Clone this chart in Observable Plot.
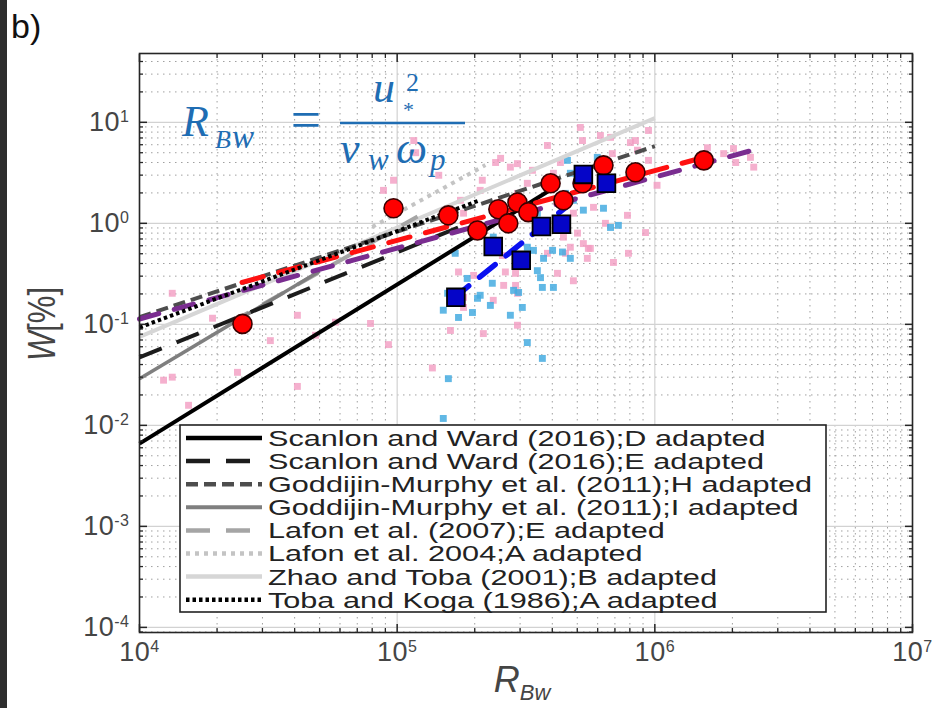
<!DOCTYPE html>
<html><head><meta charset="utf-8">
<script src="https://cdn.jsdelivr.net/npm/d3@7"></script>
<script src="https://cdn.jsdelivr.net/npm/@observablehq/plot@0.6"></script>
<style>
html,body{margin:0;padding:0;background:#fff;}
#wrap{position:relative;width:951px;height:708px;overflow:hidden;background:#fff;font-family:"Liberation Sans",Arial,sans-serif;}
#wrap > svg{display:block;}
.ov{position:absolute;}
#leftbar{left:0;top:0;width:7px;height:708px;background:#2e2e2e;}
#title{left:11px;top:9px;font-size:34px;color:#111;line-height:1;}
#ylab{left:42px;top:324px;transform:translate(-50%,-50%) rotate(-90deg) scale(1,1.25);font-size:31px;color:#454545;white-space:nowrap;line-height:1;}
#xlab{left:522px;top:662px;transform:translateX(-50%);font-size:36px;color:#454545;white-space:nowrap;line-height:1;}
#xlab sub{font-size:22px;vertical-align:-8px;}
</style></head>
<body>
<div id="wrap">
  <div id="leftbar" class="ov"></div>
  <div id="title" class="ov">b)</div>
  <div id="ylab" class="ov"><i>W</i>[%]</div>
  <div id="xlab" class="ov"><i>R</i><sub><i>Bw</i></sub></div>
</div>
<script>
// ---------------- data ----------------
const xTicks = [1e4, 1e5, 1e6, 1e7];
const yTicks = [1e-4, 1e-3, 1e-2, 1e-1, 1, 10];
const xDomain = [1e4, 1e7];
const yDomain = [8.9e-5, 48];

// small pink squares [R_Bw, W%]
const pinkPoints = [
 [1.34e4,0.203],[1.24e4,0.028],[1.34e4,0.030],[1.55e4,0.0158],[1.92e4,0.115],[2.40e4,0.0335],
 [3.22e4,0.069],[4.10e4,0.123],[4.10e4,0.0243],[5.76e4,0.105],[4.82e4,0.078],[7.88e4,0.102],
 [9.25e4,0.063],[1.37e5,0.037],[1.61e5,0.087],[1.73e5,0.33],[1.81e5,0.147],[2.36e5,0.173],
 [2.59e5,0.243],[2.63e5,0.33],[1.98e5,0.305],[2.88e5,0.243],[2.56e5,0.48],[4.83e5,0.27],
 [5.52e5,0.565],[2.16e5,0.081],[4.70e5,0.58],[9.68e4,2.67],[8.85e4,2.12],[2.41e5,4.0],
 [2.93e5,3.9],[3.35e5,3.35],[2.10e5,2.12],[1.76e5,1.69],[1.81e5,1.26],[1.57e5,1.0],
 [2.30e5,0.54],[2.88e5,0.32],[3.83e5,0.505],[4.50e5,0.505],[1.81e5,0.185],[2.93e5,0.203],
 [4.19e5,0.32],[5.01e5,0.80],[3.20e5,2.49],[4.04e5,3.13],[1.45e5,2.99],[6.15e5,7.4],
 [6.73e5,7.1],[8.41e5,6.6],[8.56e5,5.3],[9.45e5,4.2],[1.02e6,2.38],[7.83e5,1.20],
 [9.20e5,0.81],[5.78e5,1.44],[6.91e5,0.41],[6.43e5,1.0],[1.60e6,5.6],[2.02e6,5.5],
 [2.06e6,4.0],[2.35e6,4.5],[2.42e6,3.6],[1.85e6,4.9],[9.45e5,8.3],[8.04e5,6.3],
 [4.30e5,4.0],[5.14e5,8.9],[5.62e5,0.565],[1.16e5,6.6],[1.18e5,5.0],[2.14e5,2.67],
 [2.93e5,1.98],[3.83e5,5.9],[5.24e5,6.6],[6.84e5,4.9],[3.87e5,2.85],[2.52e5,4.4],
 [2.75e5,3.6],[5.28e5,0.63],[5.47e5,0.45],[4.83e5,1.26],[4.42e5,0.73],[7.90e5,0.505],
 [2.93e5,0.098]
];
// small light-blue squares [R_Bw, W%]
const cyanPoints = [
 [1.51e5,0.138],[1.73e5,0.117],[1.96e5,0.131],[2.30e5,0.154],[2.10e5,0.194],[2.75e5,0.123],
 [2.96e5,0.207],[1.58e5,0.029],[1.51e5,0.0117],[3.20e5,0.066],[1.87e5,0.285],[2.34e5,0.255],
 [2.83e5,0.217],[3.06e5,0.147],[3.50e5,0.34],[3.66e5,0.232],[4.01e5,0.54],[4.38e5,0.52],
 [4.70e5,0.45],[3.70e5,0.45],[3.66e5,0.046],[3.38e5,0.54],[1.68e5,0.505],[4.70e5,3.13],
 [4.50e5,1.98],[3.50e5,1.26],[3.60e5,0.29],[2.05e5,0.181],[1.57e5,0.203],[2.10e5,0.91],
 [2.36e5,0.73],[3.20e5,0.58],[4.04e5,0.232],[4.58e5,4.2],[5.28e5,1.35],[6.32e5,1.41],
 [6.73e5,0.91],[7.22e5,0.955],[5.98e5,4.5],[5.14e5,2.67],[4.83e5,1.69]
];
// large red circles
const redPoints = [
 [2.51e4,0.101],[9.68e4,1.41],[1.58e5,1.20],[2.05e5,0.85],[2.47e5,1.38],[2.70e5,1.0],
 [2.93e5,1.61],[3.23e5,1.29],[3.94e5,2.49],[4.42e5,1.69],[5.24e5,2.49],[6.32e5,3.75],
 [8.41e5,3.2],[1.55e6,4.2]
];
// large blue squares
const bluePoints = [
 [1.69e5,0.185],[2.36e5,0.59],[3.03e5,0.43],[3.63e5,0.93],[4.34e5,0.98],[5.28e5,3.05],[6.49e5,2.49]
];
// fit lines (end points)
const redFitR = [2.5e4, 1.77e6],  redFitW = [0.26, 4.93];
const purpleFitR = [1e4, 2.4e6],  purpleFitW = [0.113, 5.3];
const blueFitR = [1.65e5, 4.6e5], blueFitW = [0.18, 1.5];

// adapted parameterisations (legend entries)
const lineNames = [
 "Scanlon and Ward (2016);D adapted",
 "Scanlon and Ward (2016);E adapted",
 "Goddijin-Murphy et al. (2011);H adapted",
 "Goddijin-Murphy et al. (2011);I adapted",
 "Lafon et al. (2007);E adapted",
 "Lafon et al. 2004;A adapted",
 "Zhao and Toba (2001);B adapted",
 "Toba and Koga (1986);A adapted"
];
const lineR = [[1e4,4e5],[1e4,2e5],[1e4,1e6],[1e4,5e4],[2.2e4,1.2e5],[8e4,2.2e5],[1e4,1e6],[1e4,2.1e5]];
const lineW = [[0.0066,2.2],[0.047,1.06],[0.118,5.8],[0.029,0.336],[0.1,1.17],[0.92,3.77],[0.075,11],[0.093,1.7]];

// styles
const lineStroke = ["#000000","#1c1c1c","#4d4d4d","#7f7f7f","#a5a5a5","#c4c4c4","#d6d6d6","#000000"];
const lineWidthS = [4,4,4,3.5,4,4,4,4];
const lineDash = [null,"24,16","12,6",null,"24,16","4,5",null,"3.5,3"];

// ---------------- chart ----------------
const toObj = a => a.map(([R,W]) => ({R,W}));
const xMinor = d3.range(4,7).flatMap(e => d3.range(2,10).map(m => m*Math.pow(10,e)));
const yMinor = d3.range(-5,2).flatMap(e => d3.range(2,10).map(m => m*Math.pow(10,e))).filter(v => v > yDomain[0] && v < yDomain[1]);
const fmt = d => "10^" + Math.round(Math.log10(d));
const blank = () => "";

const lineMarks = lineNames.map((n,i) => Plot.line(
  [{R: lineR[i][0], W: lineW[i][0]}, {R: lineR[i][1], W: lineW[i][1]}],
  {x: "R", y: "W", stroke: lineStroke[i], strokeWidth: lineWidthS[i], strokeDasharray: lineDash[i] || undefined, strokeLinecap: "butt"}
));
const zipLine = (R, W) => R.map((r,i) => ({R: r, W: W[i]}));

const order = [6,5,4,3,2,1,0]; // light first
const chart = Plot.plot({
  width: 951, height: 708,
  marginLeft: 139, marginRight: 39, marginTop: 53, marginBottom: 76,
  x: {type: "log", domain: xDomain, label: null},
  y: {type: "log", domain: yDomain, label: null},
  style: {background: "transparent", fontFamily: "'Liberation Sans', Arial, sans-serif", fontSize: "27px", overflow: "visible"},
  marks: [
    Plot.ruleX(xMinor, {stroke: "#a0a0a0", strokeWidth: 1, strokeDasharray: "1.5,4.5"}),
    Plot.ruleY(yMinor, {stroke: "#a0a0a0", strokeWidth: 1, strokeDasharray: "1.5,4.5"}),
    Plot.ruleX(xTicks, {stroke: "#d2d2d2", strokeWidth: 1.2}),
    Plot.ruleY(yTicks, {stroke: "#d2d2d2", strokeWidth: 1.2}),
    Plot.dot(toObj(pinkPoints), {x: "R", y: "W", symbol: "square", r: 3.9, fill: "#f39cc2", fillOpacity: 0.8, stroke: "none"}),
    Plot.dot(toObj(cyanPoints), {x: "R", y: "W", symbol: "square", r: 3.9, fill: "#45ace0", fillOpacity: 0.85, stroke: "none"}),
    ...order.map(i => lineMarks[i]),
    Plot.line(zipLine(purpleFitR, purpleFitW), {x: "R", y: "W", stroke: "#7a2d90", strokeWidth: 5, strokeDasharray: "20,16"}),
    Plot.line(zipLine(redFitR, redFitW), {x: "R", y: "W", stroke: "#ff1010", strokeWidth: 5, strokeDasharray: "22,16"}),
    lineMarks[7],
    Plot.line(zipLine(blueFitR, blueFitW), {x: "R", y: "W", stroke: "#0a10f0", strokeWidth: 5.5, strokeDasharray: "20,14"}),
    Plot.dot(toObj(redPoints), {x: "R", y: "W", r: 9.5, fill: "#ff0000", stroke: "#3a0000", strokeWidth: 1.6}),
    Plot.dot(toObj(bluePoints), {x: "R", y: "W", symbol: "square", r: 10, fill: "#0505c8", stroke: "#000", strokeWidth: 1.8}),
    Plot.frame({stroke: "#262626", strokeWidth: 1.6}),
    // inward ticks on all four sides
    Plot.axisX(xTicks, {anchor: "bottom", tickSize: -8, tickFormat: blank, stroke: "#262626", strokeWidth: 1.5, label: null}),
    Plot.axisX(xTicks, {anchor: "top", tickSize: -8, tickFormat: blank, stroke: "#262626", strokeWidth: 1.5, label: null}),
    Plot.axisX(xMinor, {anchor: "bottom", tickSize: -4, tickFormat: blank, stroke: "#262626", strokeWidth: 1.3, label: null}),
    Plot.axisX(xMinor, {anchor: "top", tickSize: -4, tickFormat: blank, stroke: "#262626", strokeWidth: 1.3, label: null}),
    Plot.axisY(yTicks, {anchor: "left", tickSize: -8, tickFormat: blank, stroke: "#262626", strokeWidth: 1.5, label: null}),
    Plot.axisY(yTicks, {anchor: "right", tickSize: -8, tickFormat: blank, stroke: "#262626", strokeWidth: 1.5, label: null}),
    Plot.axisY(yMinor, {anchor: "left", tickSize: -4, tickFormat: blank, stroke: "#262626", strokeWidth: 1.3, label: null}),
    Plot.axisY(yMinor, {anchor: "right", tickSize: -4, tickFormat: blank, stroke: "#262626", strokeWidth: 1.3, label: null}),
    // labels
    Plot.axisX(xTicks, {anchor: "bottom", tickSize: 0, tickPadding: 9, tickFormat: fmt, fill: "#454545", label: null}),
    Plot.axisY(yTicks, {anchor: "left", tickSize: 0, tickPadding: 10, tickFormat: fmt, fill: "#454545", label: null})
  ]
});
const wrap = document.getElementById("wrap");
wrap.insertBefore(chart, wrap.firstChild);

// superscript exponents in tick labels
chart.querySelectorAll("text").forEach(t => {
  const m = /^10\^(-?\d+)$/.exec(t.textContent.trim());
  if (!m) return;
  while (t.firstChild) t.removeChild(t.firstChild);
  t.setAttribute("letter-spacing", "0.5px");
  t.appendChild(document.createTextNode("10"));
  const sp = document.createElementNS("http://www.w3.org/2000/svg", "tspan");
  sp.setAttribute("dy", "-0.55em");
  sp.setAttribute("font-size", "16px");
  sp.textContent = m[1];
  t.appendChild(sp);
});

// ---------------- overlay: formula + legend ----------------
const ov = d3.select(wrap).append("svg").attr("class", "ov")
  .style("left", "0px").style("top", "0px").attr("width", 951).attr("height", 708)
  .style("pointer-events", "none");

const fcol = "#1f6db3";
const ff = "'Liberation Serif','DejaVu Serif',serif";
const fT = (txt, x, y, size, italic = true, anchor = "start") => ov.append("text")
  .attr("x", x).attr("y", y).attr("font-family", ff).attr("font-size", size)
  .attr("font-style", italic ? "italic" : "normal").attr("fill", fcol)
  .attr("text-anchor", anchor).text(txt);
fT("R", 182, 136, 44);
fT("B", 215, 148, 26);
fT("w", 232, 148, 33);
fT("=", 306, 138, 54, false, "middle");
ov.append("line").attr("x1", 340).attr("x2", 465).attr("y1", 123).attr("y2", 123).attr("stroke", fcol).attr("stroke-width", 2.4);
fT("u", 373, 102, 44);
fT("2", 406, 91, 26, false);
fT("*", 403, 117, 22, false);
fT("ν", 340, 163, 44);
fT("w", 368, 170, 31);
fT("ω", 396, 163, 44);
fT("p", 430, 170, 31);

// legend
const lg = ov.append("g");
lg.append("rect").attr("x", 180).attr("y", 425).attr("width", 646).attr("height", 187)
  .attr("fill", "#fff").attr("stroke", "#222").attr("stroke-width", 1.6);
const texts = [];
lineNames.forEach((name, i) => {
  const yb = 446 + i * 23.1;
  lg.append("line").attr("x1", 186).attr("x2", 262).attr("y1", yb - 8).attr("y2", yb - 8)
    .attr("stroke", lineStroke[i]).attr("stroke-width", lineWidthS[i] + 0.5)
    .attr("stroke-dasharray", lineDash[i]);
  texts.push(lg.append("text").attr("x", 0).attr("y", yb)
    .attr("font-family", "'Liberation Sans', Arial, sans-serif").attr("font-size", 22)
    .attr("fill", "#222").text(name));
});
const w0 = texts[0].node().getComputedTextLength() || 360;
const k = 498 / w0;
texts.forEach(t => t.attr("transform", `translate(268,0) scale(${k},1)`));
</script>
</body></html>
